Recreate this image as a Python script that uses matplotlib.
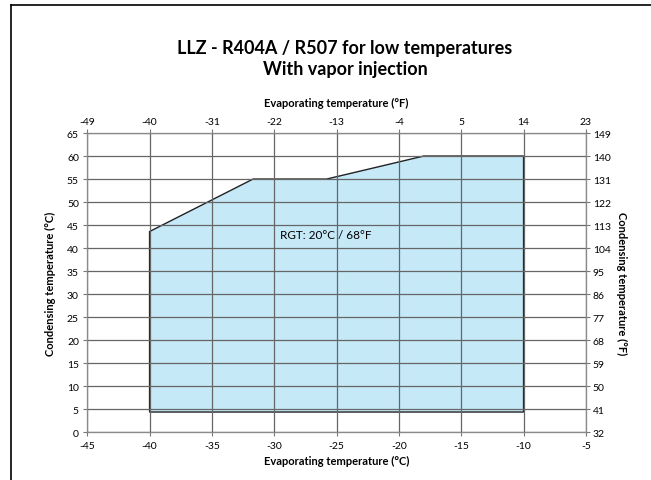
import matplotlib
matplotlib.use("Agg")
import matplotlib.pyplot as plt
from matplotlib.lines import Line2D

plt.rcParams['font.family'] = ['Lato', 'DejaVu Sans']
plt.rcParams['axes.unicode_minus'] = False

# envelope (evaporating °C, condensing °C)
evap_c = [-40, -40, -31.7, -25.8, -18, -10, -10]
cond_c = [4.4, 43.6, 55, 55, 60, 60, 4.4]

x_ticks_c = [-45, -40, -35, -30, -25, -20, -15, -10, -5]
y_ticks_c = list(range(0, 70, 5))
x_ticks_f = [round(c * 9 / 5 + 32) for c in x_ticks_c]
y_ticks_f = [round(c * 9 / 5 + 32) for c in y_ticks_c]

fig = plt.figure(figsize=(6.51, 4.81), dpi=100)
ax = fig.add_axes([0.134, 0.0992, 0.766, 0.6222])

ax.fill(evap_c, cond_c, facecolor='#c6e9f8', edgecolor='#222222', lw=1.0, zorder=1)

ax.set_xlim(-45, -5)
ax.set_ylim(0, 65)
ax.set_xticks(x_ticks_c)
ax.set_yticks(y_ticks_c)
ax.grid(True, color='#666666', lw=0.9, zorder=2)
ax.set_axisbelow(False)
for s in ax.spines.values():
    s.set_color('#8a8a8a')
ax.tick_params(labelsize=7.5, length=3, color='#777777', pad=3)
ax.set_xlabel('Evaporating temperature (°C)', fontsize=8, fontweight='bold', labelpad=4)
ax.set_ylabel('Condensing temperature (°C)', fontsize=8, fontweight='bold', labelpad=8)

ax.text(-29.5, 42.9, 'RGT: 20°C / 68°F', fontsize=8.5, va='center', ha='left', zorder=3)

# °F scales
axt = ax.twiny()
axt.set_xlim(ax.get_xlim())
axt.set_xticks(x_ticks_c)
axt.set_xticklabels([str(v) for v in x_ticks_f])
axt.tick_params(labelsize=7.5, length=3, color='#777777', pad=2)
axt.set_xlabel('Evaporating temperature (°F)', fontsize=8, fontweight='bold', labelpad=8)

axr = ax.twinx()
axr.set_ylim(ax.get_ylim())
axr.set_yticks(y_ticks_c)
axr.set_yticklabels([str(v) for v in y_ticks_f])
axr.tick_params(labelsize=7.5, length=3, color='#777777', pad=2)
axr.set_ylabel('Condensing temperature (°F)', fontsize=8, fontweight='bold',
               rotation=-90, labelpad=12)
for a in (axt, axr):
    for s in a.spines.values():
        s.set_color('#8a8a8a')

fig.text(0.53, 0.877, 'LLZ - R404A / R507 for low temperatures\nWith vapor injection',
         ha='center', va='center', fontsize=13, fontweight='bold', linespacing=1.25)

# frame lines (left and top)
fig.add_artist(Line2D([11 / 651, 11 / 651], [0, 1 - 6 / 481], color='black', lw=1.2))
fig.add_artist(Line2D([11 / 651, 1], [1 - 6 / 481, 1 - 6 / 481], color='black', lw=1.2))

fig.savefig('out.png', dpi=100)
